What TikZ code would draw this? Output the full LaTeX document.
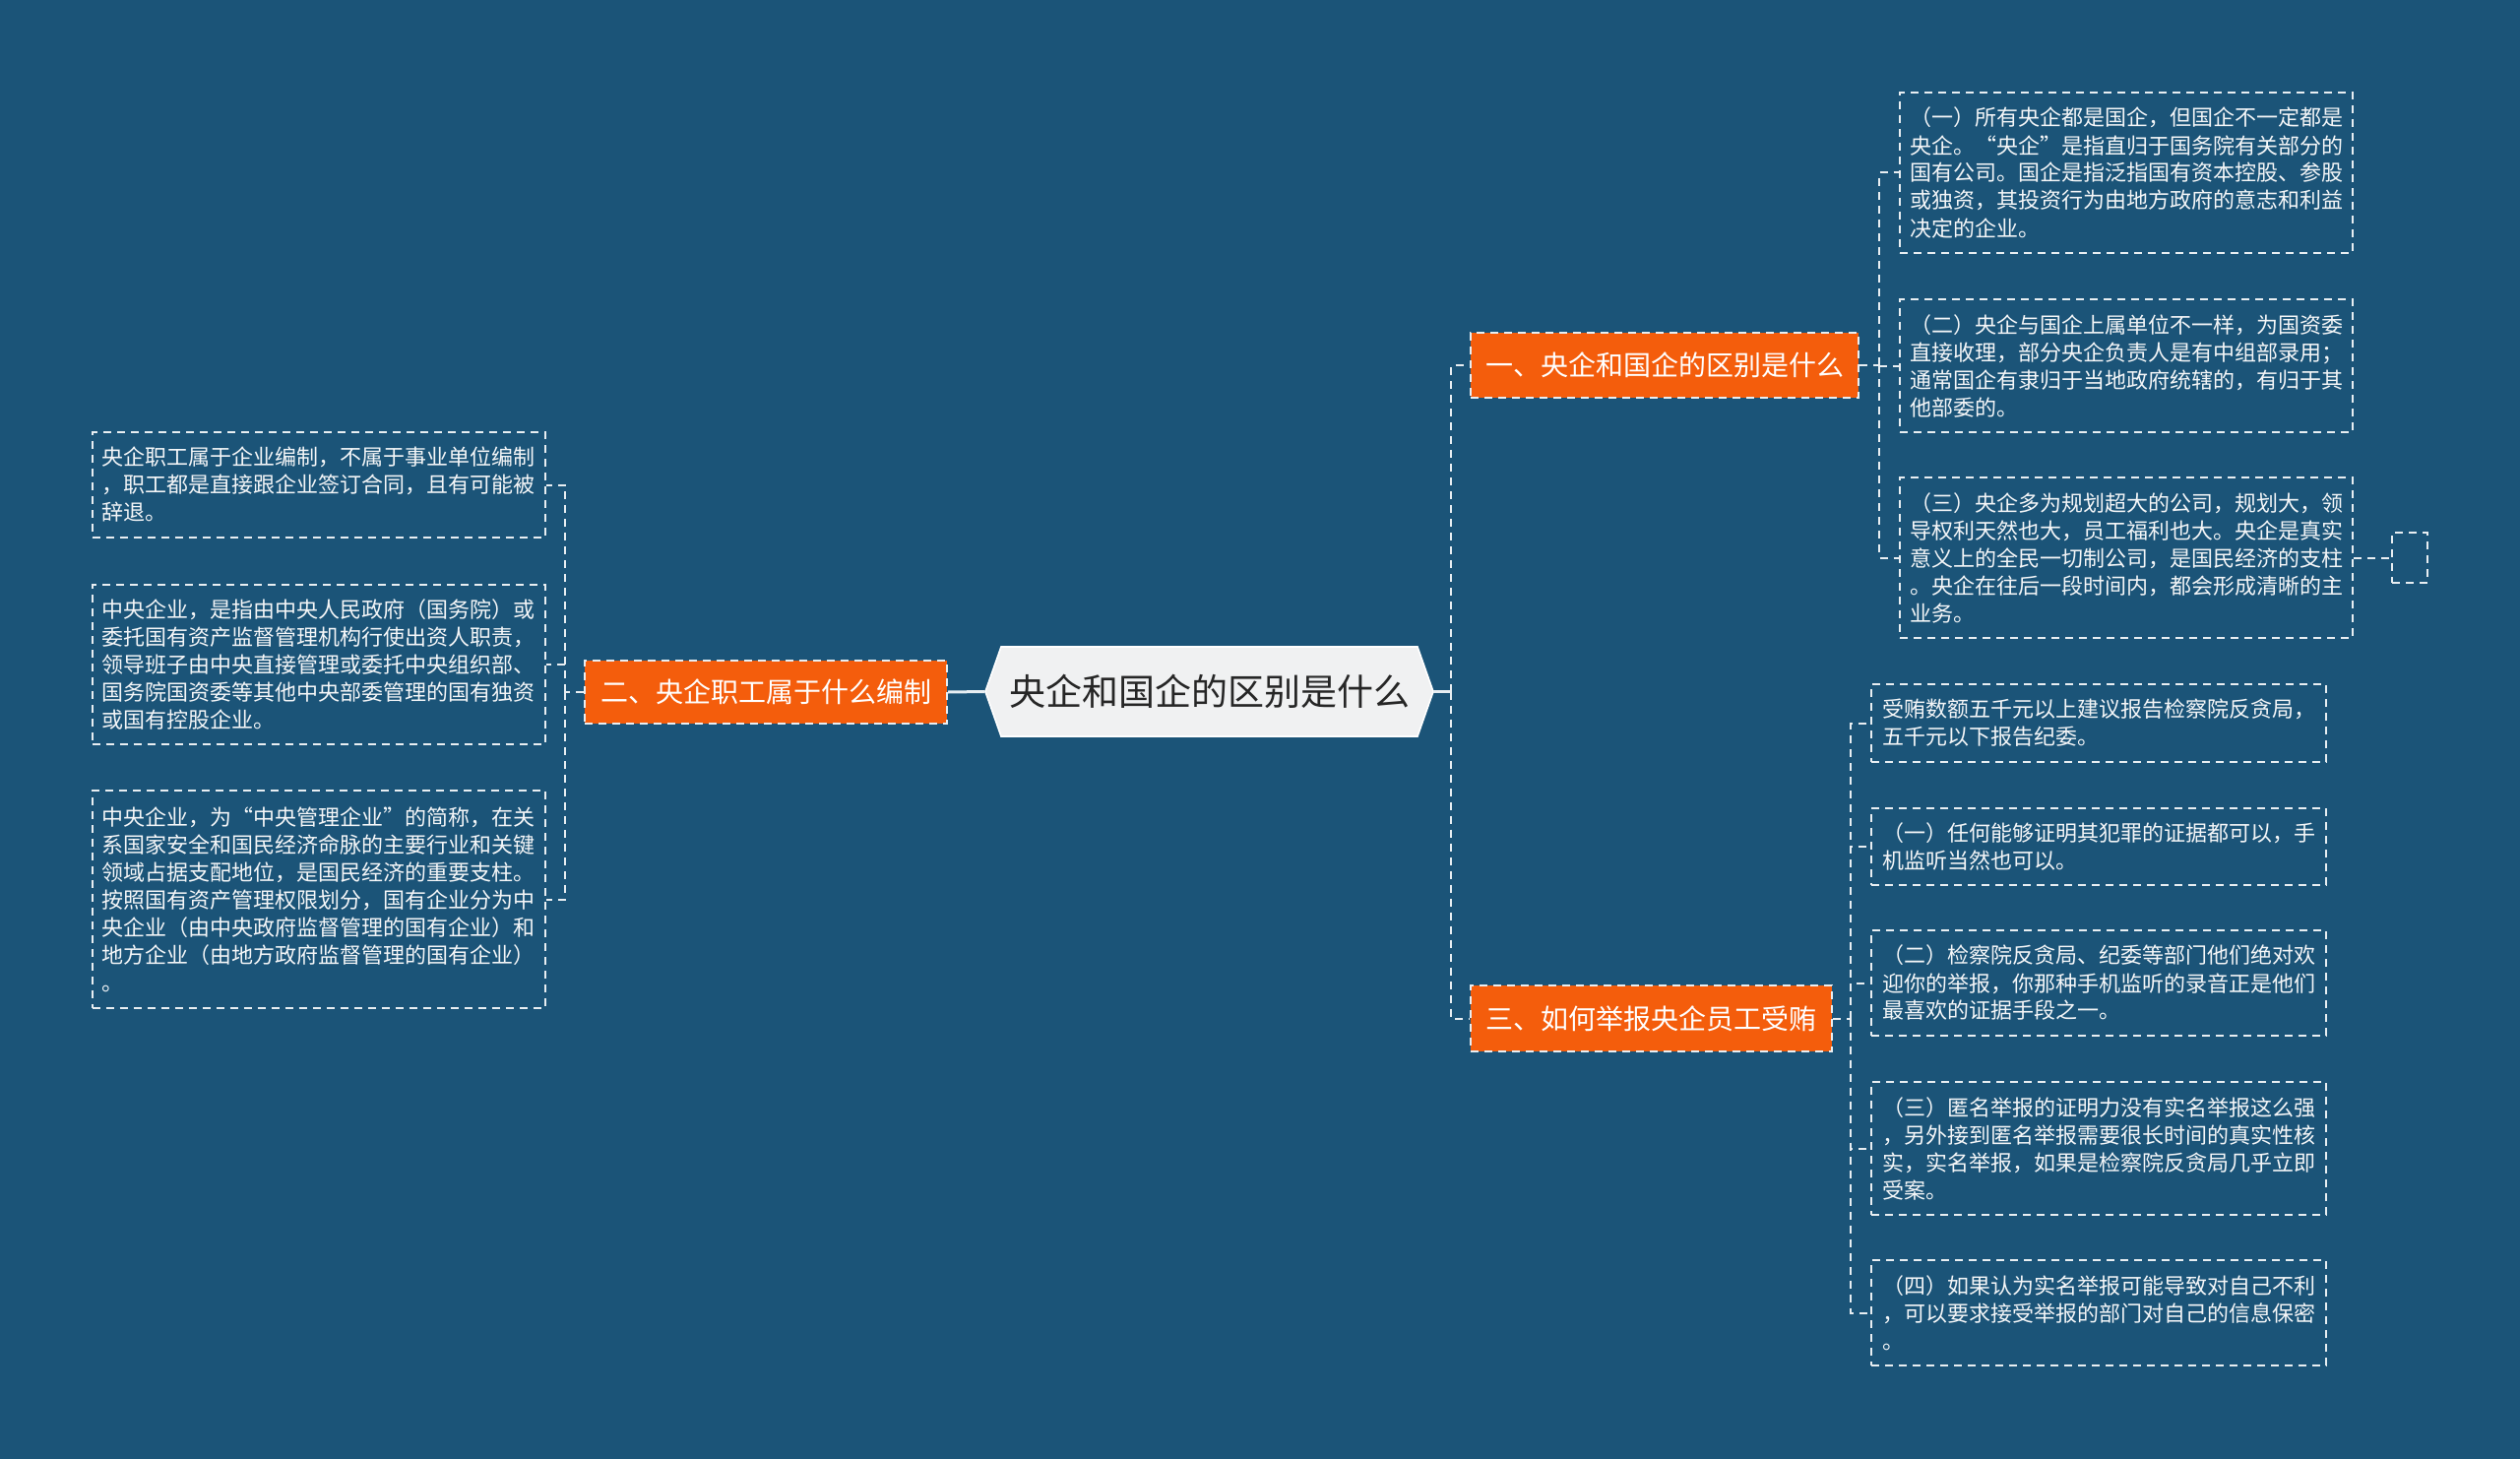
\documentclass[tikz,border=0pt]{standalone}
\usepackage{fontspec}
\setmainfont{Noto Sans CJK SC}
\newfontfamily\cjk{Noto Sans CJK SC}
\usetikzlibrary{calc}
\definecolor{bgc}{HTML}{1B5478}
\definecolor{orangec}{HTML}{F45D0C}
\definecolor{centerfill}{HTML}{F0F1F2}
\definecolor{linec}{HTML}{E8EEF2}
\definecolor{leaftext}{HTML}{F4F6F8}
\tikzset{
  leafbox/.style={draw=linec, line width=1pt, dash pattern=on 4pt off 3pt,
    text=leaftext, align=left, text width=220pt, inner xsep=5pt, inner ysep=0pt,
    font=\cjk\fontsize{11}{14}\selectfont},
  topicbox/.style={fill=orangec, draw=linec, line width=1pt, dash pattern=on 4pt off 3pt,
    text=white, inner sep=0pt, font=\cjk\fontsize{14}{16}\selectfont},
  conn/.style={draw=linec, line width=1pt, dash pattern=on 4pt off 3pt},
  mainconn/.style={draw=linec, line width=1.5pt},
}
\begin{document}
\begin{tikzpicture}[x=0.5pt,y=-0.5pt]
\useasboundingbox (0,0) rectangle (2560,1482);
\fill[bgc] (0,0) rectangle (2560,1482);

% central topic
\path[fill=centerfill, draw=white, line width=0.8pt] (1001,702.5) -- (1017,657) -- (1440,657) -- (1456,702.5) -- (1440,748) -- (1017,748) -- cycle;
\node[text=black!85, font=\cjk\fontsize{18.5}{20}\selectfont, minimum width=227.5pt, minimum height=45.5pt, inner sep=0pt] (c) at (1228.5,702.5) {央企和国企的区别是什么};

% main topics
\node[topicbox, minimum width=197pt, minimum height=33pt] (n1) at (1691,371) {一、央企和国企的区别是什么};
\node[topicbox, minimum width=184pt, minimum height=32pt] (n2) at (778,703) {二、央企职工属于什么编制};
\node[topicbox, minimum width=183.5pt, minimum height=33.5pt] (n3) at (1677.5,1034.5) {三、如何举报央企员工受贿};

% right upper leaves
\node[leafbox, minimum width=230pt, minimum height=81.5pt] (r1) at (2160,175.5) {（一）所有央企都是国企，但国企不一定都是\\央企。“央企”是指直归于国务院有关部分的\\国有公司。国企是指泛指国有资本控股、参股\\或独资，其投资行为由地方政府的意志和利益\\决定的企业。};
\node[leafbox, minimum width=230pt, minimum height=67.5pt] (r2) at (2160,371.5) {（二）央企与国企上属单位不一样，为国资委\\直接收理，部分央企负责人是有中组部录用；\\通常国企有隶归于当地政府统辖的，有归于其\\他部委的。};
\node[leafbox, minimum width=230pt, minimum height=81.5pt] (r3) at (2160,566.5) {（三）央企多为规划超大的公司，规划大，领\\导权利天然也大，员工福利也大。央企是真实\\意义上的全民一切制公司，是国民经济的支柱\\。央企在往后一段时间内，都会形成清晰的主\\业务。};
\node[draw=linec, line width=1pt, dash pattern=on 4pt off 3pt, minimum width=18pt, minimum height=25.5pt, inner sep=0pt] (r3x) at (2448,566.5) {};

% left leaves
\node[leafbox, minimum width=229.5pt, minimum height=53.5pt] (l1) at (323.5,492.5) {央企职工属于企业编制，不属于事业单位编制\\，职工都是直接跟企业签订合同，且有可能被\\辞退。};
\node[leafbox, minimum width=229.5pt, minimum height=81pt] (l2) at (323.5,675) {中央企业，是指由中央人民政府（国务院）或\\委托国有资产监督管理机构行使出资人职责，\\领导班子由中央直接管理或委托中央组织部、\\国务院国资委等其他中央部委管理的国有独资\\或国有控股企业。};
\node[leafbox, minimum width=229.5pt, minimum height=110.5pt] (l3) at (323.5,913.5) {中央企业，为“中央管理企业”的简称，在关\\系国家安全和国民经济命脉的主要行业和关键\\领域占据支配地位，是国民经济的重要支柱。\\按照国有资产管理权限划分，国有企业分为中\\央企业（由中央政府监督管理的国有企业）和\\地方企业（由地方政府监督管理的国有企业）\\。};

% right lower leaves
\node[leafbox, minimum width=231pt, minimum height=39.5pt] (ba) at (2132,734.5) {受贿数额五千元以上建议报告检察院反贪局，\\五千元以下报告纪委。};
\node[leafbox, minimum width=231pt, minimum height=39pt] (bb) at (2132,860) {（一）任何能够证明其犯罪的证据都可以，手\\机监听当然也可以。};
\node[leafbox, minimum width=231pt, minimum height=53.5pt] (bc) at (2132,998.5) {（二）检察院反贪局、纪委等部门他们绝对欢\\迎你的举报，你那种手机监听的录音正是他们\\最喜欢的证据手段之一。};
\node[leafbox, minimum width=231pt, minimum height=67.5pt] (bd) at (2132,1166.5) {（三）匿名举报的证明力没有实名举报这么强\\，另外接到匿名举报需要很长时间的真实性核\\实，实名举报，如果是检察院反贪局几乎立即\\受案。};
\node[leafbox, minimum width=231pt, minimum height=53.5pt] (be) at (2132,1333.5) {（四）如果认为实名举报可能导致对自己不利\\，可以要求接受举报的部门对自己的信息保密\\。};

% trunk coordinates
\coordinate (tr) at (1474,702.5);
\coordinate (t1) at (1909,371);
\coordinate (t2) at (574,703);
\coordinate (t3) at (1880,1034.5);

% main connectors
\draw[mainconn] (c.west) -- (n2.east);
\draw[mainconn] (c.east) -- (tr);
\draw[conn] (tr) |- (n1.west);
\draw[conn] (tr) |- (n3.west);

% branch 1
\draw[conn] (n1.east) -- (t1);
\draw[conn] (t1) |- (r1.west);
\draw[conn] (t1) |- (r2.west);
\draw[conn] (t1) |- (r3.west);
\draw[conn] (r3.east) -- (r3x.west);

% branch 2
\draw[conn] (n2.west) -- (t2);
\draw[conn] (t2) |- (l1.east);
\draw[conn] (t2) |- (l2.east);
\draw[conn] (t2) |- (l3.east);

% branch 3
\draw[conn] (n3.east) -- (t3);
\draw[conn] (t3) |- (ba.west);
\draw[conn] (t3) |- (bb.west);
\draw[conn] (t3) |- (bc.west);
\draw[conn] (t3) |- (bd.west);
\draw[conn] (t3) |- (be.west);
\end{tikzpicture}
\end{document}
